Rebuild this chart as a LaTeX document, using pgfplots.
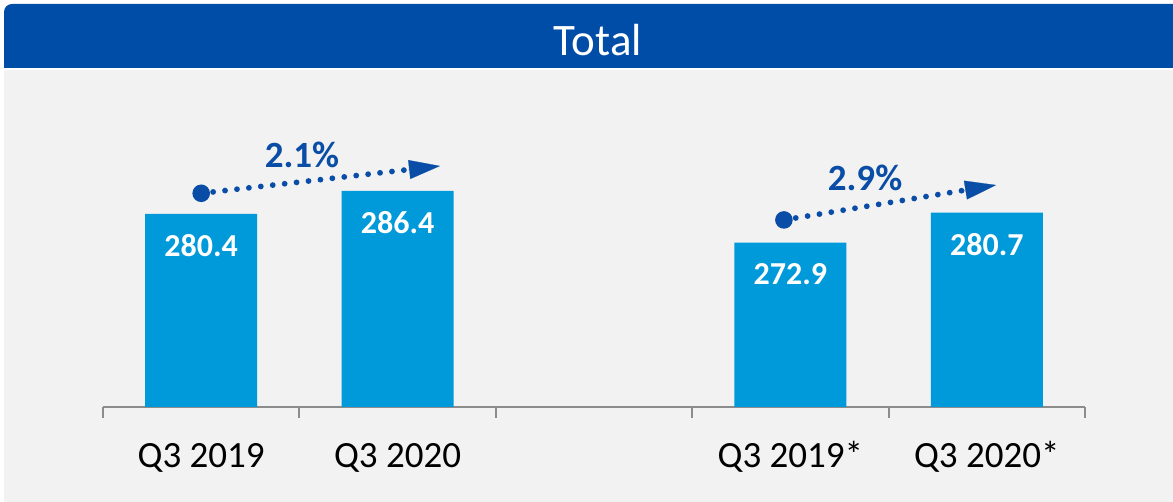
\documentclass[border=0pt]{standalone}
\usepackage{fontspec}
\setmainfont{Carlito}
\usepackage{pgfplots}
\pgfplotsset{compat=1.18}
\usetikzlibrary{calc,arrows.meta}
\definecolor{banner}{HTML}{004DA8}
\definecolor{barblue}{HTML}{0099DA}
\definecolor{bg}{HTML}{F2F2F2}
\definecolor{axisgrey}{HTML}{8C8C8C}
\definecolor{arrowblue}{HTML}{0A4DA6}
\begin{document}
\begin{tikzpicture}
\fill[white] (0,0) rectangle (586.5pt,251pt);
\fill[bg] (2pt,0) rectangle (586.5pt,216pt);
\fill[banner] (2pt,217pt) [rounded corners=4pt] -- (2pt,249pt) [sharp corners] -- (586.5pt,249pt) -- (586.5pt,217pt) -- cycle;
\node[white, font=\fontsize{22.5}{27}\selectfont, anchor=base, inner sep=0pt] at (299pt,223pt) {Total};
\begin{axis}[
  at={(51.5pt,47.5pt)}, anchor=south west,
  scale only axis, width=491pt, height=172.5pt,
  xmin=0.5, xmax=5.5, ymin=230, ymax=320,
  enlargelimits=false, clip=false,
  axis y line=none, axis x line*=bottom,
  x axis line style={-, axisgrey, line width=1pt},
  ybar, bar width=56pt,
  xtick={1,2,4,5},
  xticklabels={Q3 2019, Q3 2020, Q3 2019*, Q3 2020*},
  minor xtick={0.5,1.5,2.5,3.5,4.5,5.5},
  major tick length=0pt, minor tick length=5.5pt, tick align=outside,
  minor tick style={axisgrey, line width=1pt},
  major tick style={draw=none},
  xticklabel style={font=\fontsize{18.5}{22}\selectfont, anchor=base, yshift=-30.5pt, inner sep=0pt},
]
\addplot[fill=barblue, draw=none,
  nodes near coords,
  nodes near coords style={white, font=\bfseries\fontsize{16}{19}\selectfont, anchor=center, yshift=-16pt,
    /pgf/number format/.cd, fixed, precision=1, fixed zerofill, assume math mode=true}]
  coordinates {(1,280.4) (2,286.4) (4,272.9) (5,280.7)};

% growth arrows
\fill[arrowblue] (axis cs:1,285.75) circle[radius=4.4pt];
\draw[arrowblue, line width=2.9pt, line cap=round, dash pattern=on 0pt off 6pt]
  (axis cs:1,285.75) -- ($(axis cs:2.216,292.87)!16pt!(axis cs:1,285.75)$);
\draw[arrowblue, -{Triangle[length=15.5pt,width=9.5pt]}, line width=0.1pt]
  ($(axis cs:2.216,292.87)!16pt!(axis cs:1,285.75)$) -- (axis cs:2.216,292.87);
\node[arrowblue, font=\bfseries\fontsize{18.5}{22}\selectfont] at (axis cs:1.513,295.7) {2.1\%};

\fill[arrowblue] (axis cs:3.967,278.8) circle[radius=4.4pt];
\draw[arrowblue, line width=2.9pt, line cap=round, dash pattern=on 0pt off 6pt]
  (axis cs:3.967,278.8) -- ($(axis cs:5.047,287.9)!16pt!(axis cs:3.967,278.8)$);
\draw[arrowblue, -{Triangle[length=15.5pt,width=9.5pt]}, line width=0.1pt]
  ($(axis cs:5.047,287.9)!16pt!(axis cs:3.967,278.8)$) -- (axis cs:5.047,287.9);
\node[arrowblue, font=\bfseries\fontsize{18.5}{22}\selectfont] at (axis cs:4.38,289.7) {2.9\%};
\end{axis}
\pgfresetboundingbox
\useasboundingbox (0,0) rectangle (586.5pt,251pt);
\end{tikzpicture}
\end{document}
